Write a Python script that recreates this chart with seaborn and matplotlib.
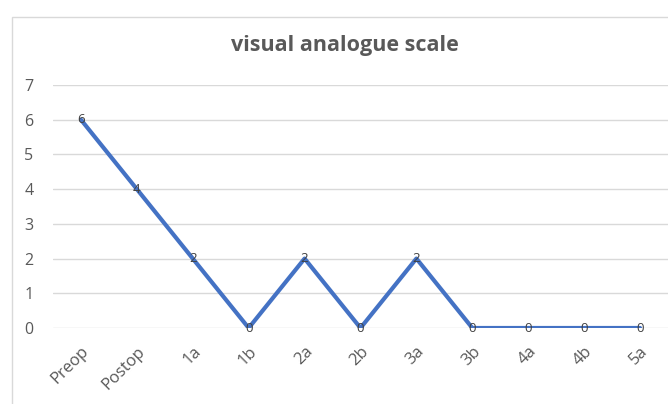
import seaborn as sns
import matplotlib.pyplot as plt
import matplotlib.patches as patches
import pandas as pd

# chart data
stages = ["Preop", "Postop", "1a", "1b", "2a", "2b", "3a", "3b", "4a", "4b", "5a"]
vas_scores = [6, 4, 2, 0, 2, 0, 2, 0, 0, 0, 0]
y_ticks = [0, 1, 2, 3, 4, 5, 6, 7]

df = pd.DataFrame({"stage": stages, "vas": vas_scores})

sns.set_style("white")
plt.rcParams["font.family"] = ["Open Sans", "DejaVu Sans"]

fig = plt.figure(figsize=(6.68, 4.04), dpi=100)
ax = fig.add_axes([53 / 668, 1 - 328 / 404, 615 / 668, 243 / 404])

# outer chart border (runs off the bottom and right edges)
fig.patches.append(patches.Rectangle((12 / 668, -0.1), 1, 1.1 - 17 / 404,
                                     transform=fig.transFigure, fill=False,
                                     edgecolor="#d9d9d9", linewidth=1.0))

sns.lineplot(data=df, x="stage", y="vas", ax=ax, color="#4472c4",
             linewidth=3.0, sort=False)

for i, v in enumerate(vas_scores):
    ax.text(i, v, str(v), ha="center", va="center", fontsize=9.5,
            color="#404040")

ax.set_xlim(-0.5, len(stages) - 0.5)
ax.set_ylim(0, 7)
ax.set_yticks(y_ticks)
ax.grid(axis="y", color="#d9d9d9", linewidth=1.0)
ax.grid(axis="x", visible=False)
ax.set_axisbelow(True)
for s in ["top", "right", "left", "bottom"]:
    ax.spines[s].set_visible(False)
ax.set_xlabel("")
ax.set_ylabel("")
ax.tick_params(axis="both", length=0, labelsize=11.5, labelcolor="#595959")
ax.tick_params(axis="y", pad=14)
ax.tick_params(axis="x", pad=11, labelsize=12)
plt.setp(ax.get_xticklabels(), rotation=45, ha="right", rotation_mode="anchor")

fig.text(345 / 668, 1 - 45 / 404, "visual analogue scale", ha="center",
         va="center", fontsize=15.5, fontweight="bold", color="#595959")

fig.savefig("out.png", dpi=100)
